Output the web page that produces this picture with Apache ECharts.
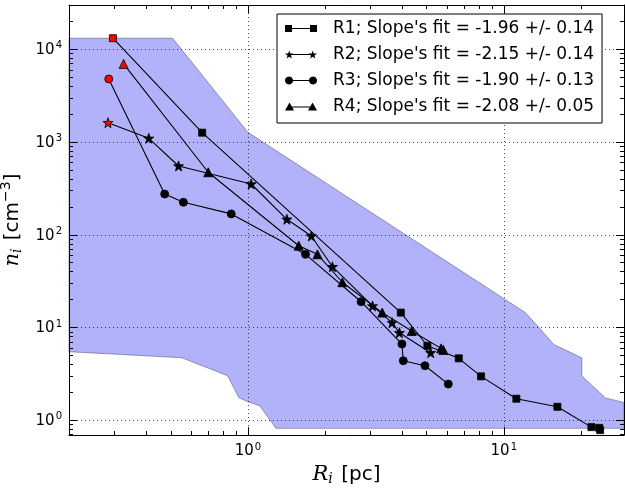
<!DOCTYPE html>
<html><head><meta charset="utf-8">
<script src="https://cdn.jsdelivr.net/npm/echarts@6/dist/echarts.min.js"></script>
<style>html,body{margin:0;padding:0;background:#fff}#c{width:625px;height:493px}</style>
</head><body><div id="c"></div>
<script>
// ---- data ----
const seriesNames = [
  "R1; Slope's fit = -1.96 +/- 0.14",
  "R2; Slope's fit = -2.15 +/- 0.14",
  "R3; Slope's fit = -1.90 +/- 0.13",
  "R4; Slope's fit = -2.08 +/- 0.05"
];
const r1X = [0.297, 0.663, 3.96, 5.03, 6.67, 8.15, 11.2, 16.2, 22.0, 23.6, 23.8];
const r1Y = [13150, 1262, 14.5, 6.37, 4.66, 2.98, 1.71, 1.40, 0.845, 0.83, 0.785];
const r2X = [0.284, 0.410, 0.536, 1.03, 1.42, 1.77, 2.14, 3.07, 3.66, 3.91, 5.18];
const r2Y = [1617, 1097, 552, 353, 147, 97, 45.3, 17.1, 11.3, 8.8, 5.36];
const r3X = [0.286, 0.473, 0.560, 0.861, 1.68, 2.77, 4.00, 4.05, 4.92, 6.07];
const r3Y = [4786, 275, 224, 168, 61.6, 19.0, 6.65, 4.39, 3.88, 2.46];
const r4X = [0.327, 0.700, 1.58, 1.87, 2.34, 3.35, 4.37, 5.69, 5.81];
const r4Y = [6950, 472, 76.3, 61.6, 30.8, 14.5, 9.18, 5.97, 5.73];
// shaded envelope (upper edge left->right, lower edge right->left)
const upperX = [0.2, 0.508, 1.0, 12.1, 13.65, 15.7, 20.2, 20.2, 25.0, 29.5];
const upperY = [13150, 13150, 1274, 14.6, 10.2, 6.56, 4.72, 3.0, 1.74, 1.56];
const lowerX = [29.5, 1.287, 1.114, 1.0, 0.922, 0.833, 0.551, 0.2];
const lowerY = [0.82, 0.82, 1.43, 1.59, 1.75, 3.03, 4.73, 5.49];
// axes
const xMin = 0.2, xMax = 29.5, yMin = 0.695, yMax = 30000;
const xMajorTicks = [1, 10];
const yMajorTicks = [1, 10, 100, 1000, 10000];

function minorTicks(lo, hi) {
  const out = [];
  for (let e = -2; e <= 5; e++) for (let k = 1; k <= 9; k++) {
    const v = k * Math.pow(10, e);
    if (v >= lo * 0.9999 && v <= hi * 1.0001) out.push(v);
  }
  return out;
}
const xMinorTicks = minorTicks(xMin, xMax);
const yMinorTicks = minorTicks(yMin, yMax);

const FONT = 'DejaVu Sans';
const tickRich = {
  b: {fontFamily: FONT, fontSize: 15, color: '#000', verticalAlign: 'bottom', lineHeight: 17},
  s: {fontFamily: FONT, fontSize: 10, color: '#000', verticalAlign: 'bottom', lineHeight: 17, padding: [0, 0, 7, 1]}
};
const powFmt = v => '{b|10}{s|' + Math.round(Math.log10(v)) + '}';

function makeAxes(min, max, majors, minors, pos1, pos2, nameCfg) {
  const base = {type: 'log', logBase: 10, min: min, max: max, z: 3, silent: true};
  const major1 = Object.assign({}, base, {
    position: pos1,
    axisLine: {show: true, lineStyle: {color: '#000', width: 1}},
    axisTick: {show: true, inside: true, length: 8, customValues: majors, lineStyle: {color: '#000', width: 1}},
    axisLabel: {show: true, customValues: majors, formatter: powFmt, rich: tickRich, margin: 7},
    splitLine: {show: true, lineStyle: {color: '#000', width: 1, type: [1, 3], opacity: 0.7}}
  }, nameCfg);
  const minor1 = Object.assign({}, base, {
    position: pos1,
    axisLine: {show: false},
    axisTick: {show: true, inside: true, length: 4, customValues: minors, lineStyle: {color: '#000', width: 1}},
    axisLabel: {show: false},
    splitLine: {show: false}
  });
  const major2 = Object.assign({}, base, {
    position: pos2,
    axisLine: {show: true, lineStyle: {color: '#000', width: 1}},
    axisTick: {show: true, inside: true, length: 8, customValues: majors, lineStyle: {color: '#000', width: 1}},
    axisLabel: {show: false},
    splitLine: {show: false}
  });
  const minor2 = Object.assign({}, minor1, {position: pos2});
  return [major1, minor1, major2, minor2];
}

const xAxes = makeAxes(xMin, xMax, xMajorTicks, xMinorTicks, 'bottom', 'top', {
  name: '{it|R}{sub|i} [pc]',
  nameLocation: 'middle', nameGap: 24,
  nameTextStyle: {fontFamily: FONT, fontSize: 20, color: '#000', verticalAlign: 'top',
    rich: {it: {fontFamily: 'DejaVu Serif', fontStyle: 'italic', fontSize: 21, color: '#000'},
           sub: {fontFamily: 'DejaVu Serif', fontStyle: 'italic', fontSize: 14, color: '#000', padding: [10, 2, 0, 0]}}}
});
const yAxes = makeAxes(yMin, yMax, yMajorTicks, yMinorTicks, 'left', 'right', {
  name: '{it|n}{sub|i} [cm{sup|\u22123}]',
  nameLocation: 'middle', nameGap: 40, nameRotate: 90,
  nameTextStyle: {fontFamily: FONT, fontSize: 20, color: '#000',
    rich: {it: {fontFamily: 'DejaVu Serif', fontStyle: 'italic', fontSize: 21, color: '#000'},
           sub: {fontFamily: 'DejaVu Serif', fontStyle: 'italic', fontSize: 14, color: '#000', padding: [10, 2, 0, 0]},
           sup: {fontFamily: FONT, fontSize: 14, color: '#000', padding: [0, 0, 12, 0]}}}
});

// legend icons (32 wide): markers at both ends joined by a line
const lineBar = 'M4,5.5 L28,5.5 L28,6.5 L4,6.5 Z';
function starPath(cx, cy, R, r) {
  let d = '';
  for (let i = 0; i < 10; i++) {
    const a = (-90 + i * 36) * Math.PI / 180;
    const rad = i % 2 === 0 ? R : r;
    d += (i === 0 ? 'M' : 'L') + (cx + rad * Math.cos(a)).toFixed(3) + ',' + (cy + rad * Math.sin(a)).toFixed(3) + ' ';
  }
  return d + 'Z';
}
function circlePath(cx, cy, r) {
  let d = '';
  for (let i = 0; i < 24; i++) {
    const a = i * 15 * Math.PI / 180;
    d += (i === 0 ? 'M' : 'L') + (cx + r * Math.cos(a)).toFixed(3) + ',' + (cy + r * Math.sin(a)).toFixed(3) + ' ';
  }
  return d + 'Z';
}
const starSym = 'path://' + starPath(5, 5, 5, 2);
const icons = [
  'path://M0,2.5 L7,2.5 L7,9.5 L0,9.5 Z M25,2.5 L32,2.5 L32,9.5 L25,9.5 Z ' + lineBar,
  'path://' + starPath(4.28, 6.5, 4.5, 1.8) + ' ' + starPath(27.72, 6.5, 4.5, 1.8) + ' ' + lineBar,
  'path://' + circlePath(4, 6, 4) + ' ' + circlePath(28, 6, 4) + ' ' + lineBar,
  'path://M4.5,1.5 L9,9.5 L0,9.5 Z M27.5,1.5 L32,9.5 L23,9.5 Z ' + lineBar
];

function pairs(xs, ys) {
  return xs.map((x, i) => i === 0
    ? {value: [x, ys[i]], itemStyle: {color: '#ff0000', borderColor: '#000'}}
    : [x, ys[i]]);
}
function lineSeries(name, xs, ys, symbol, size) {
  return {
    type: 'line', name: name, data: pairs(xs, ys),
    xAxisIndex: 0, yAxisIndex: 0,
    symbol: symbol, symbolSize: size, showAllSymbol: true,
    lineStyle: {color: '#000', width: 1.1},
    itemStyle: {color: '#000', borderColor: '#000', borderWidth: 0.8},
    z: 2, animation: false, silent: true
  };
}

const envX = upperX.concat(lowerX);
const envY = upperY.concat(lowerY);
const envData = envX.map((x, i) => [x, envY[i]]);

const chart = echarts.init(document.getElementById('c'), null, {renderer: 'canvas'});
chart.setOption({
  animation: false,
  backgroundColor: '#fff',
  grid: {left: 69, right: 1, top: 5, bottom: 58, containLabel: false, outerBoundsMode: 'none'},
  xAxis: xAxes,
  yAxis: yAxes,
  legend: {
    orient: 'vertical', left: 277, top: 14,
    itemWidth: 32, itemHeight: 12, itemGap: 9,
    padding: [6, 8, 8, 8],
    borderColor: '#000', borderWidth: 1, backgroundColor: '#fff',
    selectedMode: false,
    textStyle: {fontFamily: FONT, fontSize: 17, color: '#000', padding: [0, 0, 0, 11]},
    data: seriesNames.map((n, i) => ({name: n, icon: icons[i], itemStyle: {color: '#000', borderColor: '#000', borderWidth: 0}}))
  },
  series: [
    {
      type: 'custom', name: 'envelope', xAxisIndex: 0, yAxisIndex: 0, z: 1, silent: true,
      data: envData,
      renderItem: function (params, api) {
        if (params.dataIndex !== 0) return null;
        const pts = envData.map(p => api.coord(p));
        return {type: 'polygon', shape: {points: pts},
          style: {fill: '#b2b2fa', stroke: 'rgba(60,60,90,0.45)', lineWidth: 1}};
      }
    },
    lineSeries(seriesNames[0], r1X, r1Y, 'rect', 7),
    lineSeries(seriesNames[1], r2X, r2Y, starSym, 10),
    lineSeries(seriesNames[2], r3X, r3Y, 'circle', 8),
    lineSeries(seriesNames[3], r4X, r4Y, 'triangle', 9)
  ]
});
</script>
</body></html>
